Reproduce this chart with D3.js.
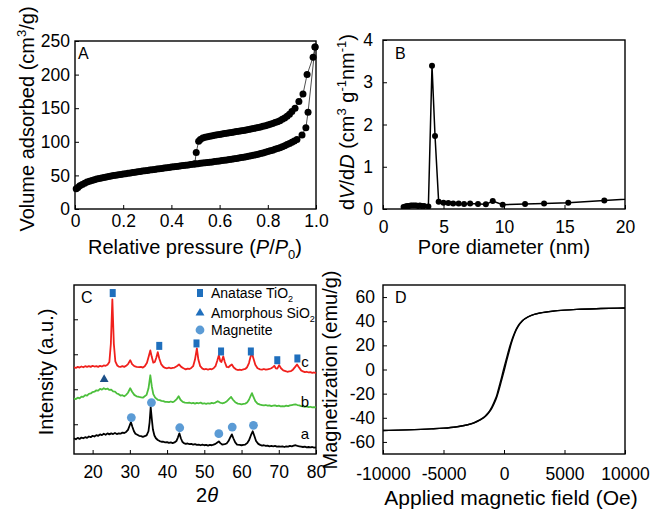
<!DOCTYPE html>
<html>
<head>
<meta charset="utf-8">
<script src="https://cdn.jsdelivr.net/npm/d3@7"></script>
<style>
  body { margin: 0; background: #fff; }
  text { font-family: Arial, "Liberation Sans", sans-serif; }
</style>
</head>
<body>
<svg id="fig" width="650" height="510"></svg>
<script>
// ---------- data ----------
// A: N2 isotherm, adsorption (lower) and desorption (upper) branches
const adsP = [0.005, 0.012, 0.02, 0.03, 0.04, 0.05, 0.06, 0.07, 0.08, 0.09, 0.10, 0.11, 0.12, 0.13, 0.14, 0.15,
  0.16, 0.17, 0.18, 0.19, 0.20, 0.21, 0.22, 0.23, 0.24, 0.25, 0.26, 0.27, 0.28, 0.29, 0.30, 0.31, 0.32, 0.33,
  0.34, 0.35, 0.36, 0.37, 0.38, 0.39, 0.40, 0.41, 0.42, 0.43, 0.44, 0.45, 0.46, 0.47, 0.48, 0.49, 0.50, 0.51,
  0.52, 0.53, 0.54, 0.55, 0.56, 0.57, 0.58, 0.59, 0.60, 0.61, 0.62, 0.63, 0.64, 0.65, 0.66, 0.67, 0.68, 0.69,
  0.70, 0.71, 0.72, 0.73, 0.74, 0.75, 0.76, 0.77, 0.78, 0.79, 0.80, 0.81, 0.82, 0.83, 0.84, 0.85, 0.86, 0.87,
  0.88, 0.89, 0.90, 0.91, 0.921, 0.942, 0.958, 0.967, 0.996]
const adsV = [30, 32, 34.5, 36.5, 38.5, 40, 41.3, 42.5, 43.5, 44.5, 45.4, 46.2, 47, 47.7, 48.4, 49.1,
  49.7, 50.3, 50.9, 51.5, 52.1, 52.6, 53.2, 53.7, 54.3, 54.8, 55.3, 55.8, 56.4, 56.9, 57.4, 57.9, 58.4, 58.9,
  59.4, 59.9, 60.4, 60.9, 61.4, 61.9, 62.4, 62.9, 63.3, 63.8, 64.3, 64.7, 65.2, 65.6, 66.1, 66.5, 67, 67.4,
  67.9, 68.3, 68.8, 69.2, 69.7, 70.1, 70.6, 71.1, 71.6, 72.1, 72.6, 73.1, 73.6, 74.2, 74.7, 75.3, 75.9, 76.5,
  77.1, 77.8, 78.5, 79.2, 80, 80.8, 81.6, 82.5, 83.4, 84.4, 85.4, 86.5, 87.6, 88.8, 90, 91.3, 92.7, 94.2,
  95.8, 97.5, 99.3, 101.3, 103.5, 110, 121, 144, 241]
const desP = [0.996, 0.988, 0.963, 0.946, 0.929, 0.913, 0.90, 0.89, 0.88, 0.87, 0.86, 0.85, 0.84, 0.83, 0.82,
  0.81, 0.80, 0.79, 0.78, 0.77, 0.76, 0.75, 0.74, 0.73, 0.72, 0.71, 0.70, 0.69, 0.68, 0.67, 0.66, 0.65, 0.64,
  0.63, 0.62, 0.61, 0.60, 0.59, 0.58, 0.57, 0.56, 0.55, 0.54, 0.53, 0.52, 0.513, 0.503, 0.497]
const desV = [241, 226, 200, 171, 160, 150, 145, 141, 138, 135.5, 133.5, 131.5, 130, 128.6, 127.3,
  126.1, 125, 124, 123.1, 122.2, 121.4, 120.6, 119.8, 119.1, 118.4, 117.7, 117, 116.4, 115.8, 115.2, 114.6, 114, 113.4,
  112.8, 112.2, 111.6, 111, 110.4, 109.8, 109.1, 108.4, 107.6, 106.7, 105.5, 103.5, 101, 84, 67.2]

// B: pore size distribution
const poreD = [1.7, 1.85, 2.0, 2.15, 2.3, 2.45, 2.6, 2.75, 2.9, 3.05, 3.2, 3.4, 3.75, 4.05, 4.3, 4.6, 5.0, 5.4,
  5.8, 6.25, 6.7, 7.2, 7.85, 8.5, 9.07, 9.89, 11.74, 13.31, 15.31, 18.29, 24]
const poreV = [0.05, 0.06, 0.07, 0.07, 0.08, 0.08, 0.08, 0.08, 0.07, 0.08, 0.07, 0.07, 0.06, 3.39, 1.73, 0.17,
  0.15, 0.14, 0.13, 0.13, 0.12, 0.13, 0.12, 0.11, 0.19, 0.10, 0.12, 0.13, 0.15, 0.20, 0.30]

// C: XRD patterns [2theta, intensity a.u.]
const xrdA = [[15,.60],[15.5,.57],[16,.61],[16.5,.58],[17,.62],[17.5,.60],[18,.63],[18.5,.61],[19,.65],[19.5,.63],
  [20,.67],[20.5,.65],[21,.69],[21.5,.67],[22,.71],[22.5,.69],[23,.73],[23.5,.70],[24,.74],[24.5,.71],[25,.74],
  [25.5,.72],[26,.75],[26.5,.72],[27,.74],[27.5,.73],[28,.76],[28.5,.75],[29,.78],[29.5,.84],[29.9,.95],[30.3,1.06],
  [30.7,.92],[31.1,.80],[31.5,.73],[32,.70],[32.5,.67],[33,.66],[33.5,.64],[34,.66],[34.5,.68],[35,.80],[35.3,1.05],
  [35.6,1.49],[35.9,1.15],[36.2,.85],[36.6,.68],[37,.60],[37.5,.55],[38,.52],[38.5,.50],[39,.50],[39.5,.48],[40,.49],
  [40.5,.47],[41,.48],[41.5,.46],[42,.48],[42.5,.52],[42.9,.62],[43.3,.74],[43.7,.60],[44.1,.50],[44.5,.46],[45,.44],
  [45.5,.45],[46,.43],[46.5,.44],[47,.42],[47.5,.43],[48,.41],[48.5,.42],[49,.40],[49.5,.42],[50,.40],[50.5,.41],
  [51,.39],[51.5,.41],[52,.40],[52.5,.42],[53,.44],[53.5,.48],[53.9,.51],[54.3,.46],[54.8,.42],[55.5,.43],[56,.45],
  [56.5,.52],[57,.63],[57.4,.71],[57.8,.60],[58.3,.48],[58.8,.42],[59.5,.41],[60,.40],[60.5,.41],[61,.42],[61.5,.46],
  [62,.54],[62.5,.68],[63,.80],[63.4,.68],[63.9,.52],[64.5,.44],[65,.41],[65.5,.39],[66,.40],[66.5,.38],[67,.39],
  [67.5,.37],[68,.38],[68.5,.37],[69,.38],[69.5,.36],[70,.37],[70.5,.36],[71,.37],[71.5,.35],[72,.37],[72.5,.36],
  [73,.38],[73.5,.37],[74,.39],[74.5,.40],[75,.38],[75.5,.37],[76,.36],[76.5,.35],[77,.36],[77.5,.34],[78,.35],
  [78.5,.34],[79,.35],[79.5,.33],[80,.34]]
const xrdB = [[15,1.74],[15.5,1.72],[16,1.76],[16.5,1.74],[17,1.79],[17.5,1.78],[18,1.83],[18.5,1.82],[19,1.87],
  [19.5,1.88],[20,1.92],[20.5,1.93],[21,1.97],[21.5,1.96],[22,2.01],[22.5,1.99],[23,2.03],[23.5,2.00],[24,2.02],
  [24.5,1.98],[25,1.99],[25.5,1.94],[26,1.93],[26.5,1.88],[27,1.86],[27.5,1.82],[28,1.83],[28.5,1.80],[29,1.84],
  [29.5,1.90],[30.1,2.03],[30.6,1.93],[31.2,1.84],[31.8,1.80],[32.5,1.78],[33,1.77],[33.5,1.76],[34,1.80],[34.5,1.84],
  [35,2.02],[35.5,2.40],[35.9,2.08],[36.3,1.86],[36.8,1.76],[37.5,1.70],[38,1.69],[38.5,1.67],[39,1.66],[39.5,1.64],
  [40,1.64],[40.5,1.63],[41,1.65],[41.5,1.63],[42,1.66],[42.6,1.72],[43.1,1.80],[43.6,1.70],[44.2,1.64],[44.8,1.62],
  [45.5,1.61],[46,1.62],[46.5,1.60],[47,1.61],[47.5,1.59],[48,1.61],[48.5,1.60],[49,1.62],[49.5,1.59],[50,1.60],
  [50.5,1.58],[51,1.60],[51.5,1.59],[52,1.61],[52.5,1.60],[53,1.62],[53.6,1.66],[54.2,1.62],[54.8,1.60],[55.5,1.62],
  [56,1.65],[56.6,1.72],[57.2,1.78],[57.7,1.70],[58.3,1.63],[59,1.59],[59.5,1.58],[60,1.57],[60.5,1.58],[61,1.59],
  [61.5,1.62],[62,1.70],[62.4,1.80],[62.8,1.89],[63.2,1.78],[63.7,1.66],[64.3,1.59],[65,1.56],[65.5,1.55],[66,1.54],
  [66.5,1.55],[67,1.53],[67.5,1.54],[68,1.52],[68.5,1.53],[69,1.54],[69.5,1.52],[70,1.53],[70.5,1.51],[71,1.52],
  [71.5,1.51],[72,1.53],[72.5,1.52],[73,1.54],[73.5,1.55],[74,1.56],[74.5,1.57],[75,1.55],[75.5,1.54],[76,1.52],
  [76.5,1.51],[77,1.50],[77.5,1.51],[78,1.49],[78.5,1.50],[79,1.48],[79.5,1.49],[80,1.48]]
const xrdC = [[15,2.63],[15.5,2.61],[16,2.64],[16.5,2.62],[17,2.65],[17.5,2.63],[18,2.66],[18.5,2.64],[19,2.66],
  [19.5,2.64],[20,2.67],[20.5,2.65],[21,2.66],[21.5,2.64],[22,2.67],[22.5,2.65],[23,2.68],[23.5,2.67],[24,2.70],
  [24.5,2.78],[24.9,3.30],[25.3,4.57],[25.7,3.30],[26.1,2.80],[26.6,2.68],[27,2.65],[27.5,2.64],[28,2.66],[28.5,2.64],
  [29,2.67],[29.5,2.72],[30.1,2.83],[30.6,2.72],[31.2,2.66],[31.8,2.64],[32.5,2.63],[33,2.64],[33.5,2.62],[34,2.66],
  [34.6,2.76],[35.1,2.95],[35.5,3.11],[35.9,2.92],[36.3,2.76],[36.7,2.78],[37.1,2.90],[37.5,3.06],[37.9,2.88],
  [38.4,2.72],[39,2.64],[39.5,2.61],[40,2.60],[40.5,2.62],[41,2.60],[41.5,2.61],[42,2.62],[42.6,2.66],[43.2,2.71],
  [43.8,2.64],[44.4,2.60],[45,2.57],[45.5,2.59],[46,2.58],[46.5,2.61],[47,2.66],[47.5,2.85],[48,3.17],[48.4,2.85],
  [48.9,2.66],[49.5,2.59],[50,2.57],[50.5,2.58],[51,2.56],[51.5,2.58],[52,2.57],[52.5,2.60],[53,2.66],[53.5,2.82],
  [53.9,2.97],[54.3,2.80],[54.6,2.78],[55.1,2.94],[55.5,2.78],[56,2.64],[56.5,2.63],[57,2.68],[57.4,2.71],[57.9,2.62],
  [58.5,2.57],[59,2.55],[59.5,2.56],[60,2.55],[60.5,2.57],[61,2.58],[61.5,2.63],[62,2.75],[62.4,2.92],[62.8,3.03],
  [63.2,2.88],[63.7,2.70],[64.3,2.60],[65,2.57],[65.5,2.56],[66,2.58],[66.5,2.56],[67,2.57],[67.5,2.58],[68,2.60],
  [68.5,2.64],[68.8,2.67],[69.2,2.60],[69.6,2.59],[70.1,2.69],[70.6,2.60],[71.2,2.54],[71.8,2.52],[72.3,2.50],
  [72.8,2.51],[73.3,2.52],[73.8,2.56],[74.4,2.64],[74.9,2.71],[75.4,2.63],[76,2.54],[76.5,2.51],[77,2.49],[77.5,2.50],
  [78,2.48],[78.5,2.49],[79,2.47],[79.5,2.48],[80,2.46]]
const anatasePeaks = [[25.4, 4.75], [37.9, 3.24], [47.9, 3.31], [54.5, 3.08], [62.5, 3.08], [69.6, 2.83], [75.0, 2.88]]
const silicaPeaks = [[23.1, 2.28]]
const magnetitePeaks = [[30.4, 1.19], [35.8, 1.62], [43.4, 0.90], [53.9, 0.73], [57.5, 0.92], [63.2, 0.97]]
const xrdLegend = ['Anatase TiO', 'Amorphous SiO', 'Magnetite']
const xrdCurveNames = ['a', 'b', 'c']

// D: hysteresis loop
const fieldH = [-10000, -8000, -6000, -5000, -4000, -3000, -2500, -2000, -1500, -1200, -1000, -800, -600, -400,
  -200, 0, 200, 400, 600, 800, 1000, 1200, 1500, 2000, 2500, 3000, 4000, 5000, 6000, 8000, 10000]
const magUp = [-50.5, -50, -49.2, -48.6, -47.6, -45.8, -44.3, -42, -38.5, -35, -32, -28, -23, -16.5,
  -9, -1.5, 6.5, 14, 21.5, 27.5, 32.5, 36.2, 40, 43.6, 45.6, 46.8, 48.3, 49.2, 49.8, 50.5, 51]
const magDown = [-50.5, -50, -49.2, -48.6, -47.6, -45.8, -44.2, -41.8, -38, -34.5, -31, -26.5, -21.5, -14,
  -6.5, 1.5, 9, 16.5, 23, 28.5, 33.2, 36.8, 40.3, 43.7, 45.7, 46.9, 48.3, 49.2, 49.8, 50.5, 51]

// ---------- helpers ----------
const svg = d3.select('#fig')
const tickFont = 17.5
const titleFont = 20

function richText(sel, parts, size) {
    // parts: strings or [text, 'i' | 'sup' | 'sub']
    let shift = 0
    parts.forEach(p => {
        const [t, k] = typeof p === 'string' ? [p, ''] : p
        const target = k === 'sup' ? -0.4 * size : k === 'sub' ? 0.25 * size : 0
        const ts = sel.append('tspan').attr('dy', target - shift).text(t)
        shift = target
        if (k === 'sup' || k === 'sub') ts.attr('font-size', size * 0.65)
        if (k === 'i') ts.attr('font-style', 'italic')
    })
    return sel
}

function makePanel(box, xDomain, yDomain) {
    const x = d3.scaleLinear().domain(xDomain).range([box.left, box.right])
    const y = d3.scaleLinear().domain(yDomain).range([box.bottom, box.top])
    const g = svg.append('g')
    return {x, y, g, box}
}

function drawAxes(p, opt) {
    const bx = p.g.append('g')
        .attr('transform', `translate(0,${p.box.bottom})`)
        .call(d3.axisBottom(p.x).tickValues(opt.xTicks).tickSizeInner(-4).tickSizeOuter(0)
            .tickPadding(opt.xPad).tickFormat(opt.xFormat || (d => d)))
    bx.attr('font-size', tickFont).attr('font-family', 'Arial, "Liberation Sans", sans-serif')
    bx.select('.domain').remove()

    const ly = p.g.append('g')
        .attr('transform', `translate(${p.box.left},0)`)
        .call(d3.axisLeft(p.y).tickValues(opt.yTicks).tickSizeInner(-4).tickSizeOuter(0)
            .tickPadding(opt.yPad).tickFormat(opt.yFormat || (d => d)))
    ly.attr('font-size', tickFont).attr('font-family', opt.yFamily || 'Arial, "Liberation Sans", sans-serif')
    ly.select('.domain').remove()
    if (opt.noYLabels) ly.selectAll('text').remove()

    p.g.selectAll('.tick line').attr('stroke', '#000').attr('stroke-width', 1)
    p.g.selectAll('.tick text').attr('fill', '#000')

    p.g.append('rect')
        .attr('x', p.box.left).attr('y', p.box.top)
        .attr('width', p.box.right - p.box.left).attr('height', p.box.bottom - p.box.top)
        .attr('fill', 'none').attr('stroke', '#000').attr('stroke-width', 1.4)
}

function panelLetter(p, letter, x, y) {
    p.g.append('text').attr('x', x).attr('y', y).attr('font-size', 16).text(letter)
}

// ---------- A: isotherm ----------
const pA = makePanel({left: 75, right: 316, top: 41, bottom: 209}, [0, 1], [0, 250])
drawAxes(pA, {xTicks: [0, 0.2, 0.4, 0.6, 0.8, 1.0], xPad: 6,
    xFormat: d => d === 0 ? '0' : d.toFixed(1), yTicks: [0, 50, 100, 150, 200, 250], yPad: 5})

const adsPts = adsP.map((p, i) => [p, adsV[i]])
const desPts = desP.map((p, i) => [p, desV[i]])
const lineA = d3.line().x(d => pA.x(d[0])).y(d => pA.y(d[1]))
;[adsPts, desPts].forEach(pts => {
    pA.g.append('path').attr('d', lineA(pts)).attr('fill', 'none').attr('stroke', '#222').attr('stroke-width', 0.8)
    pA.g.selectAll(null).data(pts).enter().append('circle')
        .attr('cx', d => pA.x(d[0])).attr('cy', d => pA.y(d[1])).attr('r', 3.5).attr('fill', '#000')
})
panelLetter(pA, 'A', 78, 59)
richText(pA.g.append('text').attr('x', 195).attr('y', 254).attr('text-anchor', 'middle').attr('font-size', titleFont),
    ['Relative pressure (', ['P', 'i'], '/', ['P', 'i'], ['0', 'sub'], ')'], titleFont)
richText(pA.g.append('text').attr('transform', 'translate(34,119) rotate(-90)').attr('text-anchor', 'middle')
    .attr('font-size', titleFont), ['Volume adsorbed (cm', ['3', 'sup'], '/g)'], titleFont)

// ---------- B: pore size distribution ----------
const pB = makePanel({left: 383, right: 625, top: 40, bottom: 209}, [0, 20], [0, 4])
drawAxes(pB, {xTicks: [0, 5, 10, 15, 20], xPad: 12, yTicks: [0, 1, 2, 3, 4], yPad: 10,
    yFamily: '"Liberation Serif", "Times New Roman", serif'})
pB.g.append('clipPath').attr('id', 'clipB').append('rect')
    .attr('x', 383).attr('y', 40).attr('width', 242).attr('height', 169)
const bPts = poreD.map((d, i) => [d, poreV[i]])
const lineB = d3.line().x(d => pB.x(d[0])).y(d => pB.y(d[1]))
const bLayer = pB.g.append('g').attr('clip-path', 'url(#clipB)')
bLayer.append('path').attr('d', lineB(bPts)).attr('fill', 'none').attr('stroke', '#000').attr('stroke-width', 1.5)
bLayer.selectAll('circle').data(bPts.slice(0, -1)).enter().append('circle')
    .attr('cx', d => pB.x(d[0])).attr('cy', d => pB.y(d[1])).attr('r', 3).attr('fill', '#000')
panelLetter(pB, 'B', 395, 59)
pB.g.append('text').attr('x', 504).attr('y', 254).attr('text-anchor', 'middle').attr('font-size', titleFont)
    .text('Pore diameter (nm)')
richText(pB.g.append('text').attr('transform', 'translate(354,122) rotate(-90)').attr('text-anchor', 'middle')
    .attr('font-size', titleFont),
    ['d', ['V', 'i'], '/d', ['D', 'i'], ' (cm', ['3', 'sup'], ' g', ['-1', 'sup'], 'nm', ['-1', 'sup'], ')'], titleFont)

// ---------- C: XRD ----------
const pC = makePanel({left: 74, right: 316, top: 285, bottom: 454}, [15, 80], [0.15, 4.98])
drawAxes(pC, {xTicks: [20, 30, 40, 50, 60, 70, 80], xPad: 12, yTicks: [1, 2, 3, 4], yPad: 4, noYLabels: true})
const lineC = d3.line().x(d => pC.x(d[0])).y(d => pC.y(d[1]))
const xrdColors = ['#000000', '#4cbf3c', '#f0201c']
;[xrdA, xrdB, xrdC].forEach((s, i) => {
    pC.g.append('path').attr('d', lineC(s)).attr('fill', 'none').attr('stroke', xrdColors[i])
        .attr('stroke-width', 1.8).attr('stroke-linejoin', 'round')
})
const squareColor = '#1f6fbd', triColor = '#1c4f88', circColor = '#5b9bd5'
pC.g.selectAll('rect.ana').data(anatasePeaks).enter().append('rect').attr('class', 'ana')
    .attr('x', d => pC.x(d[0]) - 3).attr('y', d => pC.y(d[1]) - 4).attr('width', 6).attr('height', 8)
    .attr('fill', squareColor)
const tri = d3.symbol().type(d3.symbolTriangle).size(34)
pC.g.selectAll('path.sio').data(silicaPeaks).enter().append('path').attr('class', 'sio')
    .attr('transform', d => `translate(${pC.x(d[0])},${pC.y(d[1])})`).attr('d', tri).attr('fill', triColor)
pC.g.selectAll('circle.mag').data(magnetitePeaks).enter().append('circle').attr('class', 'mag')
    .attr('cx', d => pC.x(d[0])).attr('cy', d => pC.y(d[1])).attr('r', 4.4).attr('fill', circColor)

// legend
const legY = [293, 313, 330]
pC.g.append('rect').attr('x', 197).attr('y', legY[0] - 4).attr('width', 6).attr('height', 8).attr('fill', squareColor)
pC.g.append('path').attr('transform', `translate(200,${legY[1]})`).attr('d', tri).attr('fill', squareColor)
pC.g.append('circle').attr('cx', 200).attr('cy', legY[2]).attr('r', 4.4).attr('fill', circColor)
xrdLegend.forEach((t, i) => {
    const parts = i < 2 ? [t, ['2', 'sub']] : [t]
    richText(pC.g.append('text').attr('x', 211).attr('y', legY[i] + 5).attr('font-size', 14), parts, 14)
})
const nameY = [439, 407, 367]
xrdCurveNames.forEach((n, i) => {
    pC.g.append('text').attr('x', 305).attr('y', nameY[i]).attr('text-anchor', 'middle').attr('font-size', 15).text(n)
})
panelLetter(pC, 'C', 81, 303)
richText(pC.g.append('text').attr('x', 207).attr('y', 502).attr('text-anchor', 'middle').attr('font-size', 20)
    .attr('font-family', '"Liberation Serif", "Times New Roman", serif'), ['2', ['θ', 'i']], 20)
pC.g.append('text').attr('transform', 'translate(53,372) rotate(-90)').attr('text-anchor', 'middle')
    .attr('font-size', titleFont).text('Intensity (a.u.)')

// ---------- D: magnetization ----------
const pD = makePanel({left: 383, right: 625, top: 285, bottom: 454}, [-10000, 10000], [-70, 70])
drawAxes(pD, {xTicks: [-10000, -5000, 0, 5000, 10000], xPad: 14, yTicks: [-60, -40, -20, 0, 20, 40, 60], yPad: 8})
const lineD = d3.line().x(d => pD.x(d[0])).y(d => pD.y(d[1])).curve(d3.curveMonotoneX)
;[magUp, magDown].forEach(m => {
    pD.g.append('path').attr('d', lineD(fieldH.map((h, i) => [h, m[i]])))
        .attr('fill', 'none').attr('stroke', '#000').attr('stroke-width', 1.4)
})
panelLetter(pD, 'D', 395, 303)
pD.g.append('text').attr('x', 511).attr('y', 505).attr('text-anchor', 'middle').attr('font-size', 21)
    .text('Applied magnetic field (Oe)')
pD.g.append('text').attr('transform', 'translate(337,370) rotate(-90)').attr('text-anchor', 'middle')
    .attr('font-size', titleFont).text('Magnetization (emu/g)')
</script>
</body>
</html>
